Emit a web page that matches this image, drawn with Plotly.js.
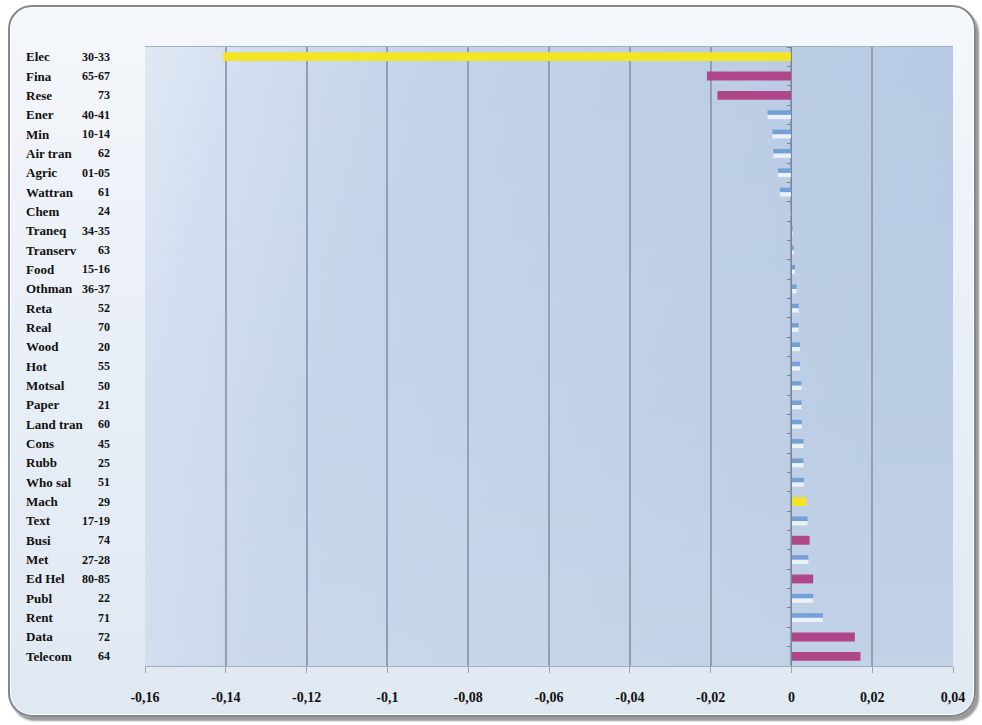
<!DOCTYPE html>
<html>
<head>
<meta charset="utf-8">
<script src="https://cdn.plot.ly/plotly-3.0.1.min.js"></script>
<style>
  html, body { margin: 0; padding: 0; background: #ffffff; }
  #frame {
    position: absolute; left: 8px; top: 5px; width: 964px; height: 708px;
    border: 2px solid #80878f; border-radius: 24px;
    background: linear-gradient(180deg, #f4f7fb 0%, #e8eef6 55%, #e0e8f2 100%);
    box-shadow: inset 0 0 0 1px #ffffff, 3px 4px 2px rgba(70,70,70,0.55);
  }
  #chart { position: absolute; left: 0; top: 0; width: 982px; height: 725px; }
</style>
</head>
<body>
<div id="frame"></div>
<div id="chart"></div>
<script>
// Sector short names, NACE codes, change values and colour group per sector
const sectors = ["Elec","Fina","Rese","Ener","Min","Air tran","Agric","Wattran","Chem","Traneq",
  "Transerv","Food","Othman","Reta","Real","Wood","Hot","Motsal","Paper","Land tran",
  "Cons","Rubb","Who sal","Mach","Text","Busi","Met","Ed Hel","Publ","Rent","Data","Telecom"];
const codes = ["30-33","65-67","73","40-41","10-14","62","01-05","61","24","34-35",
  "63","15-16","36-37","52","70","20","55","50","21","60",
  "45","25","51","29","17-19","74","27-28","80-85","22","71","72","64"];
const values = [-0.1407,-0.0209,-0.0183,-0.0059,-0.0047,-0.0045,-0.0033,-0.0028,-0.0002,0.0003,
  0.0006,0.0009,0.0013,0.0018,0.0018,0.0021,0.0021,0.0025,0.0025,0.0026,
  0.0030,0.0030,0.0031,0.0037,0.0040,0.0045,0.0042,0.0054,0.0054,0.0078,0.0157,0.0171];
const groups = ["yellow","magenta","magenta","blue","blue","blue","blue","blue","blue","blue",
  "blue","blue","blue","blue","blue","blue","blue","blue","blue","blue",
  "blue","blue","blue","yellow","blue","magenta","blue","magenta","blue","blue","magenta","magenta"];

const xTickVals = [-0.16,-0.14,-0.12,-0.1,-0.08,-0.06,-0.04,-0.02,0,0.02,0.04];
const xTickText = ["-0,16","-0,14","-0,12","-0,1","-0,08","-0,06","-0,04","-0,02","0","0,02","0,04"];

const palette = { yellow: "#f3e424", magenta: "#b0468a", blue: "#72a1d7" };

// Main bars: solid colour for yellow/magenta, upper half for blue bars
const mainTrace = {
  type: "bar", orientation: "h",
  y: sectors, x: values,
  width: groups.map(g => g === "blue" ? 0.24 : 0.46),
  offset: -0.23,
  marker: { color: groups.map(g => palette[g]), line: { width: 0 } },
  hoverinfo: "x+y"
};
// Pale lower highlight of the blue bars
const glossTrace = {
  type: "bar", orientation: "h",
  y: sectors, x: values.map((v, i) => groups[i] === "blue" ? v : null),
  width: 0.22, offset: 0.01,
  marker: { color: "#eaf1fa", line: { width: 0 } },
  hoverinfo: "skip"
};

const nameFont = { family: "Liberation Serif, Times New Roman, serif", size: 13, color: "#111111", weight: "bold" };
const codeFont = { family: "Liberation Serif, Times New Roman, serif", size: 12, color: "#111111", weight: "bold" };
const annotations = [];
sectors.forEach((s, i) => {
  annotations.push({ xref: "paper", yref: "y", x: -0.150, y: s, text: s, showarrow: false,
    xanchor: "left", yanchor: "middle", font: nameFont });
  annotations.push({ xref: "paper", yref: "y", x: -0.041, y: s, text: codes[i], showarrow: false,
    xanchor: "right", yanchor: "middle", font: codeFont });
});

// Plot-area gradient fill
const bgSvg = '<svg xmlns="http://www.w3.org/2000/svg" viewBox="0 0 100 100" preserveAspectRatio="none">' +
  '<defs><linearGradient id="g" x1="0" y1="0" x2="1" y2="0.25">' +
  '<stop offset="0" stop-color="#e1e8f4"/><stop offset="0.12" stop-color="#d2def0"/>' +
  '<stop offset="0.35" stop-color="#c2d2e9"/><stop offset="1" stop-color="#b7cae3"/></linearGradient>' +
  '<linearGradient id="h" x1="0" y1="0" x2="0" y2="1">' +
  '<stop offset="0" stop-color="#ffffff" stop-opacity="0"/><stop offset="0.6" stop-color="#ffffff" stop-opacity="0.06"/>' +
  '<stop offset="1" stop-color="#ffffff" stop-opacity="0.15"/></linearGradient></defs>' +
  '<rect x="0" y="0" width="100" height="100" fill="url(#g)"/>' +
  '<rect x="0" y="0" width="100" height="100" fill="url(#h)"/></svg>';

const layout = {
  width: 982, height: 725,
  margin: { l: 145, r: 29, t: 47, b: 59 },
  paper_bgcolor: "rgba(0,0,0,0)",
  plot_bgcolor: "rgba(0,0,0,0)",
  separators: ",.",
  barmode: "overlay",
  showlegend: false,
  xaxis: {
    range: [-0.16, 0.04], tickvals: xTickVals, ticktext: xTickText,
    showgrid: true, gridcolor: "#939eae", gridwidth: 2,
    zeroline: false, showline: true, mirror: true, linecolor: "#a3aebc",
    ticks: "outside", ticklen: 6, tickcolor: "#9aa4b2", ticklabelstandoff: 12,
    tickfont: { family: "Liberation Serif, Times New Roman, serif", size: 14, color: "#111111", weight: "bold" },
    fixedrange: true
  },
  yaxis: {
    type: "category", autorange: "reversed",
    showticklabels: false, showgrid: false, zeroline: false,
    anchor: "free", position: 0.7995,
    showline: true, linecolor: "#7a8797", linewidth: 1,
    ticks: "outside", tickson: "boundaries", ticklen: 4, tickcolor: "#7a8797",
    fixedrange: true
  },
  images: [{
    source: "data:image/svg+xml;charset=utf-8," + encodeURIComponent(bgSvg),
    xref: "paper", yref: "paper", x: 0, y: 1, sizex: 1, sizey: 1,
    sizing: "stretch", xanchor: "left", yanchor: "top", layer: "below"
  }],
  annotations: annotations
};

Plotly.newPlot("chart", [mainTrace, glossTrace], layout, { displayModeBar: false, staticPlot: true });
</script>
</body>
</html>
